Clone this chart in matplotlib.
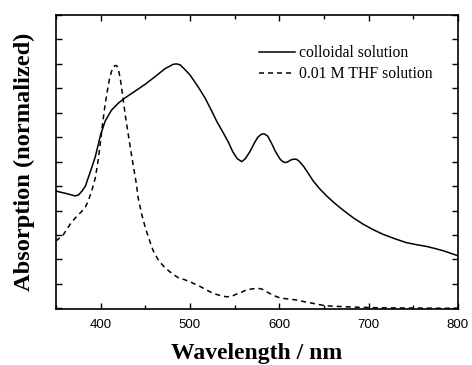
import numpy as np
import matplotlib.pyplot as plt
from matplotlib.ticker import MultipleLocator, NullFormatter

# colloidal solution (solid)
wl_colloid = [350, 355, 360, 365, 371, 375, 379, 383, 386, 390, 394, 397, 400, 405, 412, 420,
              427, 438, 450, 461, 472, 478, 481, 485, 489, 493, 500, 509, 517, 524, 530, 537,
              543, 548, 553, 558, 562, 567, 572, 576, 580, 583, 587, 591, 596, 601, 604, 607,
              610, 613, 616, 619, 622, 627, 632, 638, 645, 653, 662, 672, 683, 694, 705, 716,
              729, 742, 754, 765, 775, 784, 792, 800]
abs_colloid = [0.48, 0.475, 0.471, 0.466, 0.46, 0.463, 0.479, 0.5, 0.533, 0.575, 0.62, 0.665, 0.71,
               0.765, 0.81, 0.84, 0.86, 0.887, 0.917, 0.948, 0.98, 0.992, 0.998, 1.0, 0.996, 0.982,
               0.955, 0.907, 0.86, 0.81, 0.765, 0.72, 0.68, 0.64, 0.612, 0.60, 0.612, 0.64, 0.675,
               0.70, 0.712, 0.714, 0.705, 0.678, 0.64, 0.61, 0.6, 0.596, 0.6, 0.607, 0.61, 0.61,
               0.603, 0.582, 0.555, 0.521, 0.49, 0.46, 0.43, 0.40, 0.37, 0.344, 0.322, 0.303,
               0.285, 0.269, 0.26, 0.253, 0.244, 0.235, 0.225, 0.215]

# 0.01 M THF solution (dashed)
wl_thf = [350, 358, 367, 373, 379, 383, 386, 390, 394, 397, 399, 402, 405, 408, 410, 412, 414,
          416, 418, 420, 422, 425, 428, 431, 434, 437, 440, 442, 446, 450, 455, 459, 465, 472,
          480, 487, 494, 502, 511, 518, 526, 534, 541, 547, 552, 558, 563, 569, 576, 581, 587,
          594, 601, 610, 619, 628, 638, 646, 653, 664, 675, 690, 712, 750, 787, 800]
abs_thf = [0.275, 0.30, 0.35, 0.375, 0.397, 0.415, 0.438, 0.48, 0.533, 0.6, 0.656, 0.75, 0.833,
           0.9, 0.94, 0.967, 0.986, 0.993, 0.993, 0.975, 0.94, 0.86, 0.78, 0.71, 0.64, 0.574,
           0.51, 0.452, 0.385, 0.33, 0.275, 0.234, 0.195, 0.166, 0.142, 0.125, 0.117, 0.105, 0.09,
           0.076, 0.061, 0.052, 0.047, 0.049, 0.058, 0.066, 0.075, 0.079, 0.082, 0.078, 0.065,
           0.052, 0.042, 0.038, 0.034, 0.027, 0.02, 0.014, 0.01, 0.008, 0.006, 0.004, 0.002,
           0.001, 0.0, 0.0]

fig = plt.figure(figsize=(4.72, 3.65), dpi=100)
ax = fig.add_axes([0.1186, 0.1534, 0.8514, 0.8055])

ax.plot(wl_colloid, abs_colloid, color="black", lw=1.1, label="colloidal solution")
ax.plot(wl_thf, abs_thf, color="black", lw=1.1, linestyle=(0, (3.3, 2.6)), label="0.01 M THF solution")

ax.set_xlim(350, 800)
ax.set_ylim(-0.003, 1.2)
ax.xaxis.set_major_locator(MultipleLocator(100))
ax.xaxis.set_minor_locator(MultipleLocator(50))
ax.yaxis.set_major_locator(MultipleLocator(0.1))
ax.yaxis.set_major_formatter(NullFormatter())
ax.tick_params(which="both", direction="in", top=True, right=True, width=1)
ax.tick_params(which="major", length=4, pad=7)
ax.tick_params(which="minor", length=3)
for lbl in ax.get_xticklabels():
    lbl.set_fontfamily("Liberation Sans")
    lbl.set_fontsize(9.5)
for s in ax.spines.values():
    s.set_linewidth(1.2)

ax.set_xlabel("Wavelength / nm", fontfamily="Liberation Serif", fontweight="bold", fontsize=17, labelpad=8.5)
ax.set_ylabel("Absorption (normalized)", fontfamily="Liberation Serif", fontweight="bold", fontsize=17.6, labelpad=8)

ax.legend(loc="upper right", bbox_to_anchor=(0.973, 0.945), frameon=False,
          prop={"family": "Liberation Serif", "size": 11.3}, handlelength=2.3, handletextpad=0.25,
          labelspacing=0.3)

fig.savefig("out.png", dpi=100)
